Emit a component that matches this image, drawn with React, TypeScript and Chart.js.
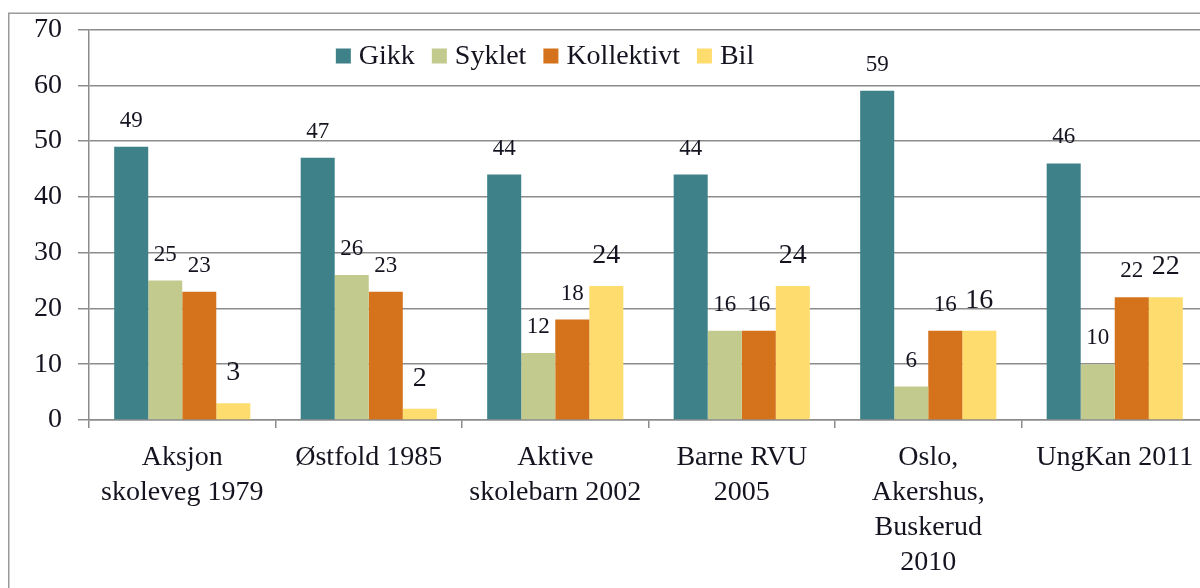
import React, { useEffect, useRef } from "react";
import { Chart, registerables } from "chart.js";
Chart.register(...registerables);

const categories: string[][] = [
  ["Aksjon", "skoleveg 1979"],
  ["Østfold 1985"],
  ["Aktive", "skolebarn 2002"],
  ["Barne RVU", "2005"],
  ["Oslo,", "Akershus,", "Buskerud", "2010"],
  ["UngKan 2011"],
];
const seriesNames = ["Gikk", "Syklet", "Kollektivt", "Bil"];
const gikk = [49, 47, 44, 44, 59, 46];
const syklet = [25, 26, 12, 16, 6, 10];
const kollektivt = [23, 23, 18, 16, 16, 22];
const bil = [3, 2, 24, 24, 16, 22];
const seriesColors = ["#3F8189", "#C3CA8E", "#D4731C", "#FEDC6E"];
const yMin = 0;
const yMax = 70;
const yStep = 10;

const FONT = "'Liberation Serif', 'Times New Roman', serif";
const TEXT = "#141420";
const GRID = "#8c8c8c";

const W = 1200;
const H = 580;

const labelPlugin = {
  id: "valueLabels",
  afterDatasetsDraw(chart: any) {
    const ctx = chart.ctx;
    ctx.save();
    ctx.fillStyle = TEXT;
    ctx.textAlign = "center";
    ctx.textBaseline = "alphabetic";
    chart.data.datasets.forEach((ds: any, di: number) => {
      const meta = chart.getDatasetMeta(di);
      const big = di === 3;
      ctx.font = `${big ? 28 : 23}px ${FONT}`;
      meta.data.forEach((el: any, i: number) => {
        ctx.fillText(String(ds.data[i]), el.x, el.y - (big ? 23 : 20));
      });
    });
    ctx.restore();
  },
};

const legendPlugin = {
  id: "customLegend",
  afterDraw(chart: any) {
    const ctx = chart.ctx;
    ctx.save();
    ctx.font = `28px ${FONT}`;
    const box = 15;
    const gapText = 8;
    const gapItem = 17;
    const widths = seriesNames.map((n) => ctx.measureText(n).width);
    const total =
      widths.reduce((a, b) => a + b + box + gapText, 0) + gapItem * (seriesNames.length - 1);
    let x = 537 - total / 2;
    const base = 55.5;
    seriesNames.forEach((n, i) => {
      ctx.fillStyle = seriesColors[i];
      ctx.fillRect(x, base - box, box, box);
      x += box + gapText;
      ctx.fillStyle = TEXT;
      ctx.textAlign = "left";
      ctx.textBaseline = "alphabetic";
      ctx.fillText(n, x, base);
      x += widths[i] + gapItem;
    });
    // outer frame
    ctx.strokeStyle = "#9a9a9a";
    ctx.lineWidth = 1.5;
    ctx.beginPath();
    ctx.moveTo(0.75, H + 10);
    ctx.lineTo(0.75, 5.25);
    ctx.lineTo(W + 10, 5.25);
    ctx.stroke();
    ctx.restore();
  },
};

export default function App() {
  const ref = useRef<HTMLCanvasElement | null>(null);
  useEffect(() => {
    if (!ref.current) return;
    const datasets = [gikk, syklet, kollektivt, bil].map((d, i) => ({
      label: seriesNames[i],
      data: d,
      backgroundColor: seriesColors[i],
      borderWidth: 0,
      barPercentage: 1.0,
      categoryPercentage: 0.73,
    }));
    const chart = new Chart(ref.current, {
      type: "bar",
      data: { labels: categories as any, datasets },
      options: {
        responsive: false,
        animation: false,
        maintainAspectRatio: false,
        layout: { padding: { top: 21.5, left: 0, right: 0, bottom: 0 } },
        plugins: { legend: { display: false }, tooltip: { enabled: false } },
        scales: {
          x: {
            offset: true,
            grid: {
              offset: true,
              drawOnChartArea: false,
              drawTicks: true,
              tickLength: 8,
              color: GRID,
              lineWidth: 1.5,
            },
            border: { display: true, color: GRID, width: 1.5 },
            ticks: {
              color: TEXT,
              font: { family: FONT, size: 28, lineHeight: 1.25 },
              padding: 12,
              maxRotation: 0,
              autoSkip: false,
            },
            afterFit(scale: any) {
              scale.height = H - 412;
              scale.paddingLeft = 0;
              scale.paddingRight = 0;
            },
          },
          y: {
            min: yMin,
            max: yMax,
            grid: {
              color: GRID,
              lineWidth: 1.5,
              drawTicks: true,
              tickLength: 11,
            },
            border: { display: true, color: GRID, width: 1.5 },
            ticks: {
              stepSize: yStep,
              color: TEXT,
              font: { family: FONT, size: 28 },
              padding: 16,
            },
            afterFit(scale: any) {
              scale.width = 81;
              scale.paddingTop = 0;
              scale.paddingBottom = 0;
            },
          },
        },
      },
      plugins: [labelPlugin, legendPlugin],
    });
    return () => chart.destroy();
  }, []);
  return (
    <div
      style={{
        position: "fixed",
        left: 8,
        top: 8,
        width: 1192,
        height: 580,
        overflow: "hidden",
        background: "#fff",
      }}
    >
      <canvas ref={ref} width={W} height={H} style={{ width: W, height: H, display: "block" }} />
    </div>
  );
}
